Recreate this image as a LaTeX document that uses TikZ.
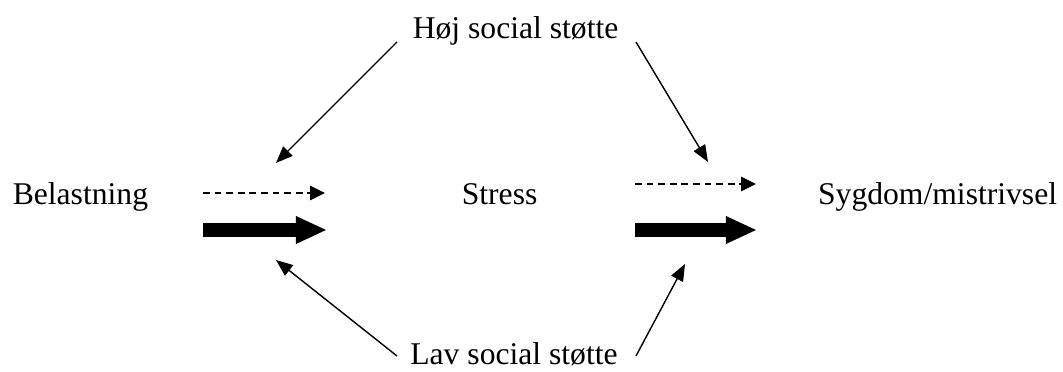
\documentclass[tikz,border=0pt]{standalone}
\usepackage{fontspec}
\setmainfont{Liberation Serif}
\usetikzlibrary{arrows.meta}
\begin{document}
\begin{tikzpicture}[font=\fontsize{22.5}{27}\selectfont,
	txt/.style={anchor=base,inner sep=0pt},
	fine/.style={line width=1pt,-{Triangle[length=0.42cm,width=0.33cm]}},
	pointille/.style={line width=0.8pt,dash pattern=on 0.17cm off 0.12cm,-{Triangle[length=0.37cm,width=0.36cm]}},
	epaisse/.style={line width=0.35cm,-{Triangle[length=0.78cm,width=0.64cm]}}]
	%Cadre
	\useasboundingbox (0,0) rectangle (26.575,-9.3) ;
	%Textes
	\node [txt] (bel)	 at (2.01,-5.125)	{Belastning}		;
	\node [txt] (stress) at (12.49,-5.125)	{Stress}			;
	\node [txt] (syg)	 at (23.44,-5.125)	{Sygdom/mistrivsel}	;
	\node [txt] (hoj)	 at (12.89,-0.975)	{Høj social støtte}	;
	\node [txt] (lav)	 at (12.85,-9.1)	{Lav social støtte}	;
	%Points
	\coordinate (d1a) at (5.075,-4.825)	; \coordinate (d1b) at (8.125,-4.825)	;
	\coordinate (e1a) at (5.075,-5.75)	; \coordinate (e1b) at (8.175,-5.75)	;
	\coordinate (d2a) at (15.875,-4.6)	; \coordinate (d2b) at (18.9,-4.6)		;
	\coordinate (e2a) at (15.875,-5.75)	; \coordinate (e2b) at (18.925,-5.75)	;
	\coordinate (hg)  at (9.925,-1.05)	; \coordinate (hgb) at (6.9,-4.075)	;
	\coordinate (hd)  at (15.9,-1.05)	; \coordinate (hdb) at (17.7,-4.05)	;
	\coordinate (lg)  at (9.925,-8.9)	; \coordinate (lgb) at (6.9,-6.5)		;
	\coordinate (ld)  at (15.9,-8.9)	; \coordinate (ldb) at (17.125,-6.6)	;
	%Fleches horizontales
	\draw [pointille]	(d1a) -- (d1b) ;
	\draw [epaisse]		(e1a) -- (e1b) ;
	\draw [pointille]	(d2a) -- (d2b) ;
	\draw [epaisse]		(e2a) -- (e2b) ;
	%Fleches obliques
	\draw [fine]		(hg) -- (hgb) ;
	\draw [fine]		(hd) -- (hdb) ;
	\draw [fine]		(lg) -- (lgb) ;
	\draw [fine]		(ld) -- (ldb) ;
\end{tikzpicture}
\end{document}
